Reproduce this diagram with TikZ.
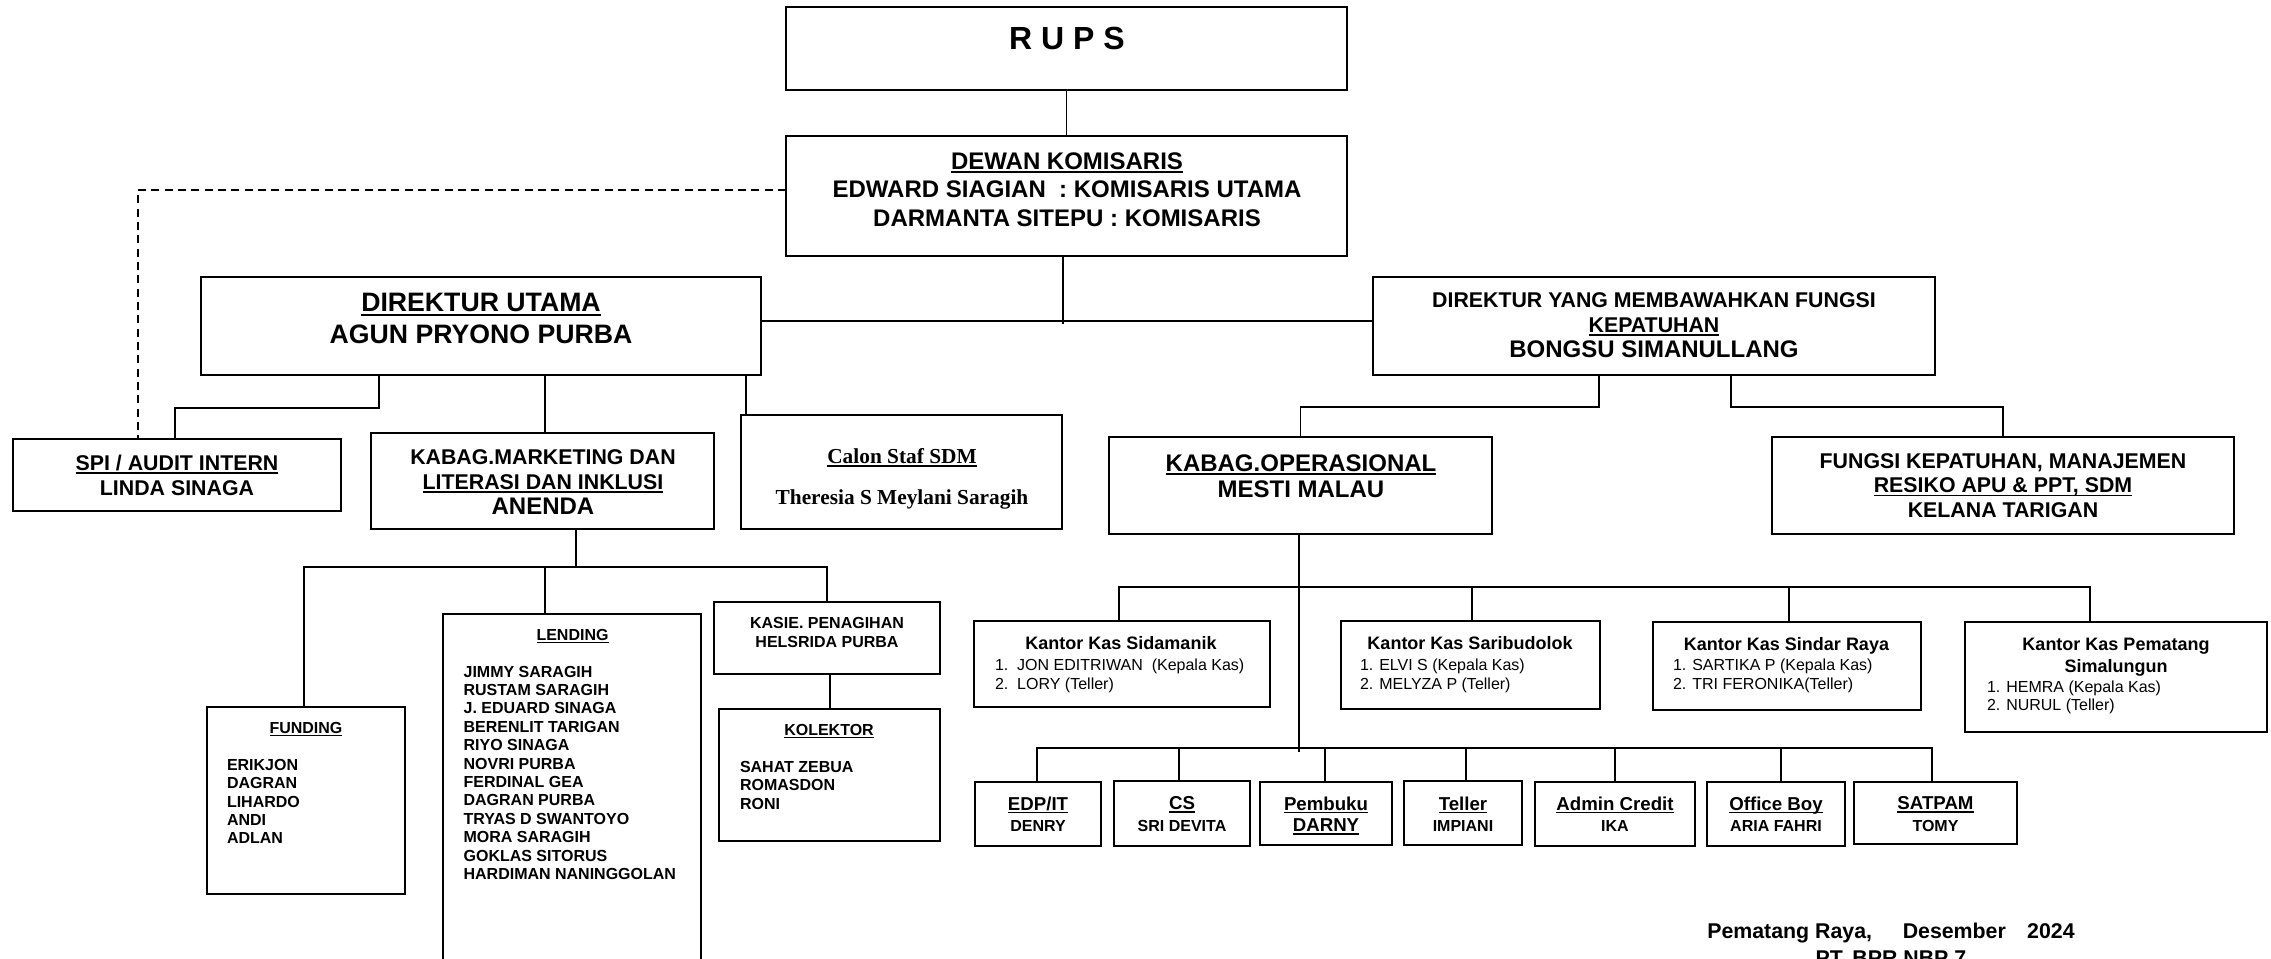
\documentclass[tikz,border=0pt]{standalone}
\usepackage{fontspec}
\setmainfont{Liberation Sans}
\newfontfamily\serifbf{Liberation Serif}
\usetikzlibrary{fit}
\newcommand\ul[1]{\setbox0\hbox{#1}\rlap{\raisebox{-0.16em}[0pt][0pt]{\rule{\wd0}{0.07em}}}\box0}
\newcommand\fs[2]{\fontsize{#1}{#2}\selectfont\bfseries}
\begin{document}
\begin{tikzpicture}[x=0.75pt,y=-0.75pt,
  box/.style={draw, line width=1.2pt, inner sep=0pt, outer sep=0pt, fit={#1}},
  lbl/.style={inner sep=0pt, outer sep=0pt, align=center, anchor=north},
  lst/.style={inner sep=0pt, outer sep=0pt, align=left, anchor=north west},
  link/.style={line width=1pt},
  dashlink/.style={line width=1pt, dash pattern=on 6pt off 4pt}]
\useasboundingbox (0,0) rectangle (2271,958);
\clip (0,0) rectangle (2271,958);

% ---------- boxes ----------
\node[box={(786,7) (1347,90)}] (rups) {};
\node[box={(786,136) (1347,256)}] (dewan) {};
\node[box={(201,277) (761,375)}] (dirut) {};
\node[box={(1373,277) (1935,375)}] (dirkep) {};
\node[box={(13,439) (341,511)}] (spi) {};
\node[box={(371,433) (714,529)}] (mkt) {};
\node[box={(741,415) (1062,529)}] (sdm) {};
\node[box={(1109,437) (1492,534)}] (ops) {};
\node[box={(1772,437) (2234,534)}] (fkep) {};
\node[box={(207,707) (405,894)}] (fund) {};
\node[box={(443,614) (701,975)}] (lend) {};
\node[box={(714,602) (940,674)}] (kasie) {};
\node[box={(719,709) (940,841)}] (kol) {};
\node[box={(974,621) (1270,707)}] (kk1) {};
\node[box={(1341,621) (1600,709)}] (kk2) {};
\node[box={(1653,622) (1921,710)}] (kk3) {};
\node[box={(1965,622) (2267,732)}] (kk4) {};
\node[box={(975,782) (1101,846)}] (s1) {};
\node[box={(1114,781) (1250,846)}] (s2) {};
\node[box={(1260,782) (1392,845)}] (s3) {};
\node[box={(1404,781) (1522,845)}] (s4) {};
\node[box={(1535,782) (1695,846)}] (s5) {};
\node[box={(1707,782) (1845,846)}] (s6) {};
\node[box={(1854,782) (2017,844)}] (s7) {};

% ---------- texts ----------
\node[lbl, font=\fs{24pt}{28pt}] (t-rups) at (1067,27.5) {R U P S};
\node[lbl, font=\fs{18pt}{21.4pt}] (t-dewan) at (1067,152.4)
  {\ul{DEWAN KOMISARIS}\\EDWARD SIAGIAN\ \ : KOMISARIS UTAMA\\DARMANTA SITEPU : KOMISARIS};
\node[lbl, font=\fs{20pt}{24pt}] (t-dirut) at (481,293.5) {\ul{DIREKTUR UTAMA}\\AGUN PRYONO PURBA};
\node[lbl, font=\fs{16pt}{18.75pt}] (t-dirkep) at (1654,292.4)
  {DIREKTUR YANG MEMBAWAHKAN FUNGSI\\\ul{KEPATUHAN}\\{\fontsize{18pt}{18.75pt}\selectfont BONGSU SIMANULLANG}};
\node[lbl, font=\fs{16pt}{18.75pt}] (t-spi) at (177,454.8) {\ul{SPI / AUDIT INTERN}\\LINDA SINAGA};
\node[lbl, font=\fs{16pt}{18.75pt}] (t-mkt) at (543,449.4)
  {KABAG.MARKETING DAN\\\ul{LITERASI DAN INKLUSI}\\{\fontsize{18pt}{18.75pt}\selectfont ANENDA}};
\node[lbl, font={\serifbf\fontsize{16pt}{30.75pt}\selectfont\bfseries}] (t-sdm) at (902,448.4)
  {\ul{Calon Staf SDM}\\Theresia S Meylani Saragih};
\node[lbl, font=\fs{18pt}{19.5pt}] (t-ops) at (1301,454.4) {\ul{KABAG.OPERASIONAL}\\MESTI MALAU};
\node[lbl, font=\fs{16pt}{18.4pt}] (t-fkep) at (2003,453.4)
  {FUNGSI KEPATUHAN, MANAJEMEN\\\ul{RESIKO APU \& PPT, SDM}\\KELANA TARIGAN};

\node[lbl, font=\fs{12pt}{13.7pt}] (t-fund-h) at (306,722.6) {\ul{FUNDING}};
\node[lst, font=\fs{12pt}{13.7pt}] (t-fund) at (227,759.3) {ERIKJON\\DAGRAN\\LIHARDO\\ANDI\\ADLAN};
\node[lbl, font=\fs{12pt}{13.8pt}] (t-lend-h) at (572.5,629.3) {\ul{LENDING}};
\node[lst, font=\fs{12pt}{13.8pt}] (t-lend) at (463.6,666)
  {JIMMY SARAGIH\\RUSTAM SARAGIH\\J. EDUARD SINAGA\\BERENLIT TARIGAN\\RIYO SINAGA\\NOVRI PURBA\\FERDINAL GEA\\DAGRAN PURBA\\TRYAS D SWANTOYO\\MORA SARAGIH\\GOKLAS SITORUS\\HARDIMAN NANINGGOLAN};
\node[lbl, font=\fs{12pt}{14.25pt}] (t-kasie) at (827,617) {KASIE. PENAGIHAN\\HELSRIDA PURBA};
\node[lbl, font=\fs{12pt}{14pt}] (t-kol-h) at (829,724.3) {\ul{KOLEKTOR}};
\node[lst, font=\fs{12pt}{14.1pt}] (t-kol) at (740,761) {SAHAT ZEBUA\\ROMASDON\\RONI};

\node[lbl, font=\fs{13.5pt}{16.3pt}] (t-kk1-h) at (1121,636.9) {Kantor Kas Sidamanik};
\node[lst, font=\fontsize{12pt}{14.25pt}\selectfont] (t-kk1) at (995,658.6)
  {1.\ \ JON EDITRIWAN\ \ (Kepala Kas)\\2.\ \ LORY (Teller)};
\node[lbl, font=\fs{13.5pt}{16.3pt}] (t-kk2-h) at (1470,636.9) {Kantor Kas Saribudolok};
\node[lst, font=\fontsize{12pt}{14.25pt}\selectfont] (t-kk2) at (1360,658.6)
  {1. ELVI S (Kepala Kas)\\2. MELYZA P (Teller)};
\node[lbl, font=\fs{13.5pt}{16.3pt}] (t-kk3-h) at (1786.5,637.6) {Kantor Kas Sindar Raya};
\node[lst, font=\fontsize{12pt}{14.25pt}\selectfont] (t-kk3) at (1673,659.3)
  {1. SARTIKA P (Kepala Kas)\\2. TRI FERONIKA(Teller)};
\node[lbl, font=\fs{13.5pt}{16.3pt}] (t-kk4-h) at (2116,638.6) {Kantor Kas Pematang\\Simalungun};
\node[lst, font=\fontsize{12pt}{13.2pt}\selectfont] (t-kk4) at (1987,680.9)
  {1. HEMRA (Kepala Kas)\\2. NURUL (Teller)};

\node[lbl, font=\fs{14pt}{16.1pt}] (t-s1) at (1038,796.6) {\ul{EDP/IT}\\{\fontsize{12pt}{16.1pt}\selectfont DENRY}};
\node[lbl, font=\fs{14pt}{16.1pt}] (t-s2) at (1182,796.6) {\ul{CS}\\{\fontsize{12pt}{16.1pt}\selectfont SRI DEVITA}};
\node[lbl, font=\fs{14pt}{16.1pt}] (t-s3) at (1326,796.6) {\ul{Pembuku}\\\ul{DARNY}};
\node[lbl, font=\fs{14pt}{16.1pt}] (t-s4) at (1463,796.6) {\ul{Teller}\\{\fontsize{12pt}{16.1pt}\selectfont IMPIANI}};
\node[lbl, font=\fs{14pt}{16.1pt}] (t-s5) at (1615,796.6) {\ul{Admin Credit}\\{\fontsize{12pt}{16.1pt}\selectfont IKA}};
\node[lbl, font=\fs{14pt}{16.1pt}] (t-s6) at (1776,796.6) {\ul{Office Boy}\\{\fontsize{12pt}{16.1pt}\selectfont ARIA FAHRI}};
\node[lbl, font=\fs{14pt}{16.1pt}] (t-s7) at (1935.5,796.6) {\ul{SATPAM}\\{\fontsize{12pt}{16.1pt}\selectfont TOMY}};

\node[lbl, font=\fs{16pt}{19.9pt}] (t-foot) at (1891,923.4)
  {Pematang Raya,\hspace{23pt}Desember\hspace{16pt}2024\\PT. BPR NBP 7};

% ---------- connectors ----------
\coordinate (jn) at (1063,321);
\coordinate (jn2) at (1063,324);
\draw[link] (rups) -- (dewan);
\draw[link] (dewan.south -| jn2) -- (jn2);
\draw[link] (dirut.east |- jn) -- (dirkep.west |- jn);
\draw[link] (dirut.south -| 379,0) -- (379,408) -| (spi.north -| 175,0);
\draw[link] (dirut.south -| 545,0) -- (mkt.north -| 545,0);
\draw[link] (dirut.south -| 746,0) -- (sdm.north -| 746,0);
\draw[dashlink] (dewan.west |- 0,190) -| (spi.north -| 138,0);

\draw[link] (dirkep.south -| 1599,0) -- (1599,407) -| (ops.north);
\draw[link] (dirkep.south -| 1731,0) -- (1731,407) -| (fkep.north);

\draw[link] (mkt.south -| 576,0) -- (576,567);
\draw[link] (fund.north -| 304,0) |- (kasie.north |- 0,567) -- (kasie.north);
\draw[link] (lend.north -| 545,0) -- (545,567);
\draw[link] (kasie.south -| 830,0) -- (kol.north -| 830,0);

\draw[link] (ops.south -| 1299,0) -- (1299,752);
\draw[link] (kk1.north -| 1119,0) |- (2090,587) -- (kk4.north -| 2090,0);
\draw[link] (kk2.north -| 1472,0) -- (1472,587);
\draw[link] (kk3.north -| 1789,0) -- (1789,587);

\draw[link] (s1.north -| 1037,0) |- (1932,748) -- (s7.north -| 1932,0);
\draw[link] (s2.north -| 1179,0) -- (1179,748);
\draw[link] (s3.north -| 1325,0) -- (1325,748);
\draw[link] (s4.north -| 1466,0) -- (1466,748);
\draw[link] (s5.north -| 1615,0) -- (1615,748);
\draw[link] (s6.north -| 1781,0) -- (1781,748);
\end{tikzpicture}
\end{document}
